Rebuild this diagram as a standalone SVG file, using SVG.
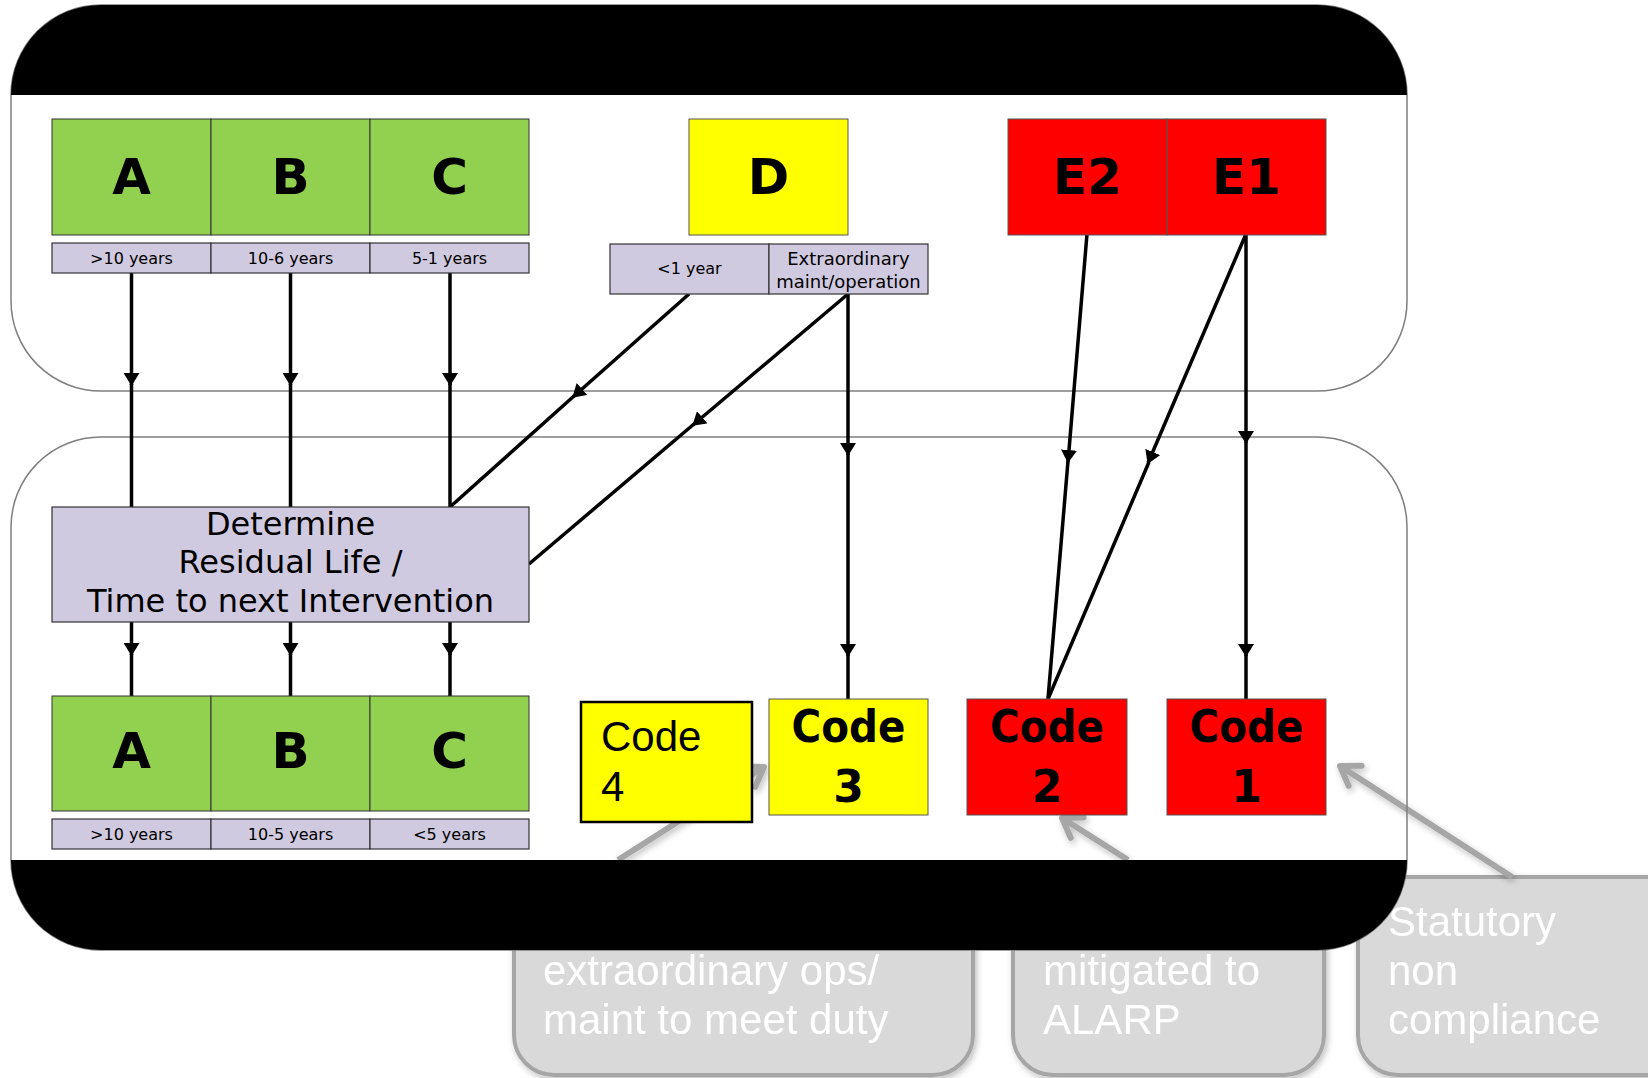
<svg xmlns="http://www.w3.org/2000/svg" width="1648" height="1078" viewBox="0 0 1648 1078">
<style>
.frame{fill:#ffffff;stroke:#7f7f7f;stroke-width:1.5}
.frameline{fill:none;stroke:#7f7f7f;stroke-width:1.5}
.blk{fill:#000000}
.g{fill:#92d050;stroke:#333333;stroke-width:1}
.lv{fill:#d0cae0;stroke:#333333;stroke-width:1.2}
.y{fill:#ffff00;stroke:#555555;stroke-width:1}
.r{fill:#ff0000;stroke:#555555;stroke-width:1}
.y4{fill:#ffff00;stroke:#000000;stroke-width:2.5}
.big{font-family:"DejaVu Sans",sans-serif;font-weight:bold;font-size:50px;text-anchor:middle;fill:#000}
.code{font-family:"DejaVu Sans",sans-serif;font-weight:bold;font-size:44px;text-anchor:middle;fill:#000}
.lab{font-family:"DejaVu Sans",sans-serif;font-size:16px;text-anchor:middle;fill:#000}
.lab2{font-family:"DejaVu Sans",sans-serif;font-size:18px;text-anchor:middle;fill:#000}
.det{font-family:"DejaVu Sans",sans-serif;font-size:32px;text-anchor:middle;fill:#000}
.arial{font-family:"Liberation Sans",Arial,sans-serif;font-size:42px;fill:#000}
.wt{font-family:"Liberation Sans",Arial,sans-serif;font-size:42px;fill:#ffffff}
.callout{fill:#d9d9d9;stroke:#a6a6a6;stroke-width:4}
.garrow{fill:none;stroke:#a6a6a6;stroke-width:6;marker-end:url(#gray)}
.c{fill:none;stroke:#000;stroke-width:3.5}
.ca{fill:none;stroke:#000;stroke-width:3.5;marker-end:url(#tri)}
</style>
<defs>
<marker id="tri" viewBox="0 0 13 16" refX="12" refY="8" markerWidth="13" markerHeight="16" markerUnits="userSpaceOnUse" orient="auto">
<path d="M0,0 L13,8 L0,16 Z" fill="#000"/>
</marker>
<marker id="gray" viewBox="-24 -16 28 32" refX="0" refY="0" markerWidth="28" markerHeight="32" markerUnits="userSpaceOnUse" orient="auto">
<path d="M-18,-12 L0,0 L-18,12" fill="none" stroke="#a6a6a6" stroke-width="6" stroke-linecap="round" stroke-linejoin="round"/>
</marker>
<filter id="sh" x="-20%" y="-20%" width="140%" height="140%">
<feDropShadow dx="2" dy="3" stdDeviation="3" flood-color="#000" flood-opacity="0.25"/>
</filter>
</defs>

<g id="top-frame">
<rect class="frame" x="11" y="5" width="1396" height="386" rx="90" ry="90"/>
<path class="blk" d="M11,95 A90,90 0 0 1 101,5 H1317 A90,90 0 0 1 1407,95 Z"/>
</g>

<g id="bottom-frame">
<rect x="11" y="437" width="1396" height="513" rx="90" ry="90" fill="#ffffff"/>
</g>

<g id="callout-duty" filter="url(#sh)">
<rect class="callout" x="514" y="880" width="459" height="195" rx="40" ry="40"/>
<text class="wt" x="543" y="985">extraordinary ops/</text>
<text class="wt" x="543" y="1034">maint to meet duty</text>
</g>
<g id="callout-alarp" filter="url(#sh)">
<rect class="callout" x="1013" y="880" width="311" height="195" rx="40" ry="40"/>
<text class="wt" x="1043" y="985">mitigated to</text>
<text class="wt" x="1043" y="1034">ALARP</text>
</g>
<g id="callout-statutory" filter="url(#sh)">
<rect class="callout" x="1358" y="877" width="330" height="198" rx="40" ry="40"/>
<text class="wt" x="1388" y="936">Statutory</text>
<text class="wt" x="1388" y="985">non</text>
<text class="wt" x="1388" y="1034">compliance</text>
</g>

<g id="callout-connectors" filter="url(#sh)">
<path class="garrow" d="M618,860 L764,767"/>
<path class="garrow" d="M1128,860 L1062,818"/>
<path class="garrow" d="M1512,877 L1340,766"/>
</g>

<g id="bottom-frame-outline">
<rect class="frameline" x="11" y="437" width="1396" height="513" rx="90" ry="90"/>
<path class="blk" d="M11,860 H1407 A90,90 0 0 1 1317,950 H101 A90,90 0 0 1 11,860 Z"/>
</g>

<g id="connectors">
<path class="ca" d="M131.5,273 L131.5,385"/><path class="c" d="M131.5,384 L131.5,507"/>
<path class="ca" d="M290.5,273 L290.5,385"/><path class="c" d="M290.5,384 L290.5,507"/>
<path class="ca" d="M450,273 L450,385"/><path class="c" d="M450,384 L450,507"/>
<path class="ca" d="M689,294 L573,397"/><path class="c" d="M574,396 L450,507"/>
<path class="ca" d="M848,294 L693,425"/><path class="c" d="M694,424 L529,564"/>
<path class="ca" d="M848,294 L848,455"/><path class="ca" d="M848,454 L848,656"/><path class="c" d="M848,655 L848,699"/>
<path class="ca" d="M131.5,622 L131.5,655"/><path class="c" d="M131.5,654 L131.5,696"/>
<path class="ca" d="M290.5,622 L290.5,655"/><path class="c" d="M290.5,654 L290.5,696"/>
<path class="ca" d="M450,622 L450,655"/><path class="c" d="M450,654 L450,696"/>
<path class="ca" d="M1087,234 L1068,462"/><path class="c" d="M1068,461 L1048,699"/>
<path class="ca" d="M1246,234 L1148,463"/><path class="c" d="M1149,462 L1048,699"/>
<path class="ca" d="M1246,234 L1246,443"/><path class="ca" d="M1246,442 L1246,656"/><path class="c" d="M1246,655 L1246,699"/>
</g>

<g id="grade-A-top">
<rect class="g" x="52" y="119" width="159" height="116"/>
<text class="big" x="131.5" y="194">A</text>
<rect class="lv" x="52" y="243" width="159" height="30"/>
<text class="lab" x="131.5" y="264">&gt;10 years</text>
</g>
<g id="grade-B-top">
<rect class="g" x="211" y="119" width="159" height="116"/>
<text class="big" x="290.5" y="194">B</text>
<rect class="lv" x="211" y="243" width="159" height="30"/>
<text class="lab" x="290.5" y="264">10-6 years</text>
</g>
<g id="grade-C-top">
<rect class="g" x="370" y="119" width="159" height="116"/>
<text class="big" x="449.5" y="194">C</text>
<rect class="lv" x="370" y="243" width="159" height="30"/>
<text class="lab" x="449.5" y="264">5-1 years</text>
</g>
<g id="grade-D">
<rect class="y" x="689" y="119" width="159" height="116"/>
<text class="big" x="768.5" y="194">D</text>
<rect class="lv" x="610" y="244" width="159" height="50"/>
<text class="lab" x="689.5" y="274">&lt;1 year</text>
<rect class="lv" x="769" y="244" width="159" height="50"/>
<text class="lab2" x="848.5" y="265">Extraordinary</text>
<text class="lab2" x="848.5" y="288">maint/operation</text>
</g>
<g id="grade-E2">
<rect class="r" x="1008" y="119" width="159" height="116"/>
<text class="big" x="1087.5" y="194">E2</text>
</g>
<g id="grade-E1">
<rect class="r" x="1167" y="119" width="159" height="116"/>
<text class="big" x="1246.5" y="194">E1</text>
</g>

<g id="determine">
<rect class="lv" x="52" y="507" width="477" height="115"/>
<text class="det" x="290.5" y="535">Determine</text>
<text class="det" x="290.5" y="573">Residual Life /</text>
<text class="det" x="290.5" y="612">Time to next Intervention</text>
</g>

<g id="grade-A-bottom">
<rect class="g" x="52" y="696" width="159" height="115"/>
<text class="big" x="131.5" y="768">A</text>
<rect class="lv" x="52" y="819" width="159" height="30"/>
<text class="lab" x="131.5" y="840">&gt;10 years</text>
</g>
<g id="grade-B-bottom">
<rect class="g" x="211" y="696" width="159" height="115"/>
<text class="big" x="290.5" y="768">B</text>
<rect class="lv" x="211" y="819" width="159" height="30"/>
<text class="lab" x="290.5" y="840">10-5 years</text>
</g>
<g id="grade-C-bottom">
<rect class="g" x="370" y="696" width="159" height="115"/>
<text class="big" x="449.5" y="768">C</text>
<rect class="lv" x="370" y="819" width="159" height="30"/>
<text class="lab" x="449.5" y="840">&lt;5 years</text>
</g>
<g id="code-4">
<rect class="y4" x="581" y="702" width="171" height="120"/>
<text class="arial" x="601" y="751">Code</text>
<text class="arial" x="601" y="801">4</text>
</g>
<g id="code-3">
<rect class="y" x="769" y="699" width="159" height="116"/>
<text class="code" x="848.5" y="742" textLength="114" lengthAdjust="spacingAndGlyphs">Code</text>
<text class="code" x="848.5" y="802">3</text>
</g>
<g id="code-2">
<rect class="r" x="967" y="699" width="160" height="116"/>
<text class="code" x="1047" y="742" textLength="114" lengthAdjust="spacingAndGlyphs">Code</text>
<text class="code" x="1047" y="802">2</text>
</g>
<g id="code-1">
<rect class="r" x="1167" y="699" width="159" height="116"/>
<text class="code" x="1246.5" y="742" textLength="114" lengthAdjust="spacingAndGlyphs">Code</text>
<text class="code" x="1246.5" y="802">1</text>
</g>
</svg>
